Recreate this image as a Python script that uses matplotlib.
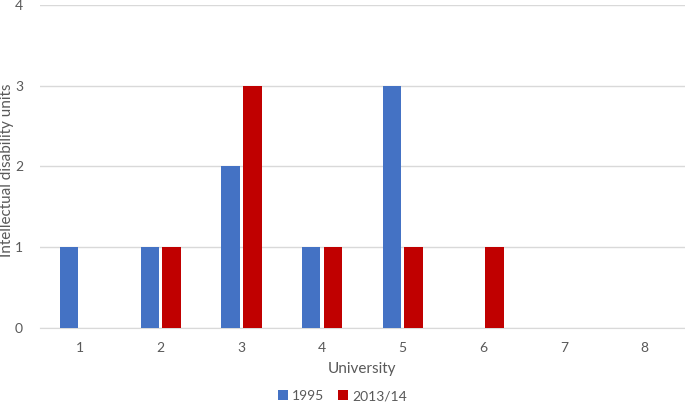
import matplotlib.pyplot as plt
import numpy as np

plt.rcParams['font.family'] = ['Lato', 'DejaVu Sans']

universities = ['1', '2', '3', '4', '5', '6', '7', '8']
units_1995 = [1, 1, 2, 1, 3, 0, 0, 0]
units_2013 = [0, 1, 3, 1, 1, 1, 0, 0]
series_names = ['1995', '2013/14']

blue = '#4472C4'
red = '#C00000'
grey = '#595959'

fig = plt.figure(figsize=(6.85, 4.05), dpi=100)
ax = fig.add_axes([0.058, 0.19, 0.942, 0.798])

x = np.arange(len(universities))
w = 0.23
ax.bar(x - w / 2 - 0.02, units_1995, w, color=blue, label=series_names[0], zorder=3)
ax.bar(x + w / 2 + 0.02, units_2013, w, color=red, label=series_names[1], zorder=3)

ax.set_xlim(-0.5, len(universities) - 0.5)
ax.set_ylim(0, 4)
ax.set_yticks([0, 1, 2, 3, 4])
ax.set_xticks(x)
ax.set_xticklabels(universities)
ax.yaxis.grid(True, color='#D9D9D9', linewidth=1, zorder=0)
for s in ['top', 'right', 'left']:
    ax.spines[s].set_visible(False)
ax.spines['bottom'].set_color('#D9D9D9')
ax.tick_params(length=0, colors=grey, labelsize=10)
ax.tick_params(axis='x', pad=10)
ax.tick_params(axis='y', pad=12)

ax.set_xlabel('University', color=grey, fontsize=11, labelpad=6)
# y label placed by hand so it sits flush with the left edge
fig.text(7 / 685, 1 - 170 / 405, 'Intellectual disability units', color=grey,
         fontsize=11, rotation=90, ha='center', va='center')

fig.legend(loc='center', bbox_to_anchor=(0.5, 0.022), ncol=2, frameon=False,
           fontsize=10, labelcolor=grey, handlelength=0.7, handleheight=0.7,
           handletextpad=0.3, columnspacing=1.0)

fig.savefig('out.png', dpi=100)
